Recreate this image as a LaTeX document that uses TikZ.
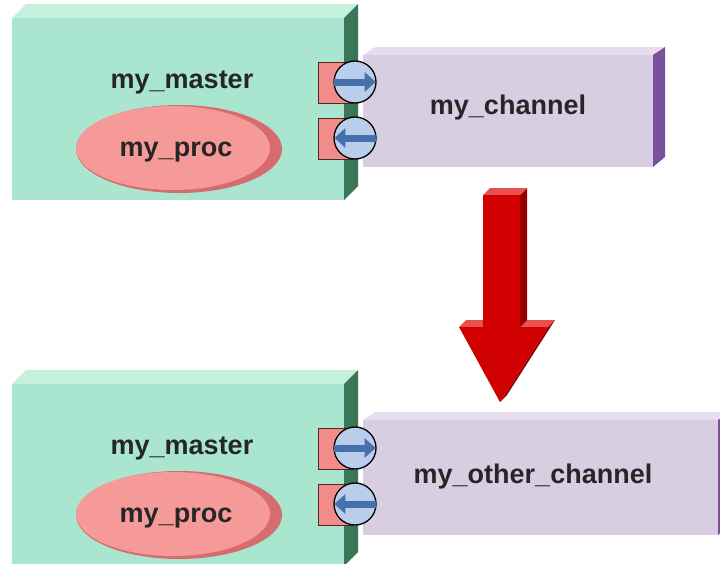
\documentclass[tikz,border=0pt]{standalone}
\usepackage{fontspec}
\setmainfont{Liberation Sans}
\usetikzlibrary{arrows.meta}

\definecolor{mintfront}{RGB}{170,230,207}
\definecolor{minttop}{RGB}{196,240,222}
\definecolor{mintside}{RGB}{58,118,88}
\definecolor{lilacfront}{RGB}{216,206,226}
\definecolor{lilactop}{RGB}{230,222,236}
\definecolor{lilacside}{RGB}{122,80,154}
\definecolor{procdark}{RGB}{214,108,112}
\definecolor{proclight}{RGB}{245,154,152}
\definecolor{portpink}{RGB}{242,140,138}
\definecolor{portedge}{RGB}{80,40,40}
\definecolor{portblue}{RGB}{186,206,236}
\definecolor{portarrow}{RGB}{70,112,172}
\definecolor{redfront}{RGB}{208,0,0}
\definecolor{redtop}{RGB}{232,80,80}
\definecolor{redside}{RGB}{150,0,0}

\tikzset{
  label/.style={font=\fontsize{27}{30}\selectfont\bfseries, text=black!85, inner sep=0pt},
  portsquare/.style={fill=portpink, draw=portedge, line width=1pt},
  portcircle/.style={circle, minimum size=42pt, inner sep=0pt, fill=portblue, draw=black, line width=1.3pt},
  portflow/.style={portarrow, line width=7pt, -{Triangle[length=11pt,width=19pt]}},
  pics/master/.style={code={
    % box with top and side faces
    \fill[minttop] (12,18) -- (26,4) -- (358,4) -- (344,18) -- cycle;
    \fill[mintside] (344,18) -- (358,4) -- (358,186) -- (344,200) -- cycle;
    \fill[mintfront] (12,18) rectangle (344,200);
    \node[label] (-name) at (182,82) {my\_master};
    % process ellipse with shaded rim
    \fill[procdark] (179,149) ellipse [x radius=103, y radius=44];
    \fill[proclight] (173,148) ellipse [x radius=97, y radius=42];
    \node[label] (-proc) at (176,152) {my\_proc};
  }},
  pics/ports/.style={code={
    \node[portsquare, minimum width=34pt, minimum height=41pt, inner sep=0pt, anchor=north west] (-sqa) at (318,62) {};
    \node[portsquare, minimum width=34pt, minimum height=41pt, inner sep=0pt, anchor=north west] (-sqb) at (318,118) {};
    \node[portcircle] (-outp) at (355,82) {};
    \node[portcircle] (-inp) at (355,138) {};
    \draw[portflow] ([xshift=1pt]-outp.west) -- ([xshift=-1pt]-outp.east);
    \draw[portflow] ([xshift=-1pt]-inp.east) -- ([xshift=1pt]-inp.west);
  }}
}

\begin{document}
\begin{tikzpicture}[x=1pt,y=-1pt]
\useasboundingbox (0,0) rectangle (720,563);
\fill[white] (0,0) rectangle (720,563);

% ---- before: master bound to my_channel ----
\pic (topm) at (0,0) {master};
\fill[lilactop] (363,55) -- (375,47) -- (665,47) -- (653,55) -- cycle;
\fill[lilacside] (653,55) -- (665,47) -- (665,157) -- (653,167) -- cycle;
\fill[lilacfront] (363,55) rectangle (653,167);
\node[label] (chan) at (508,108) {my\_channel};
\pic (topp) at (0,0) {ports};

% ---- rebinding arrow ----
\fill[redtop] (459,327) -- (466,320) -- (555,320) -- (548,327) -- cycle;
\fill[redside] (548,327) -- (555,320) -- (507,395) -- (500,402) -- cycle;
\fill[redside] (520,195) -- (527,188) -- (527,320) -- (520,327) -- cycle;
\fill[redtop] (483,195) -- (490,188) -- (527,188) -- (520,195) -- cycle;
\fill[redfront] (483,195) -- (520,195) -- (520,327) -- (548,327) -- (500,402)
  -- (459,327) -- (483,327) -- cycle;

% ---- after: master bound to my_other_channel ----
\pic (botm) at (0,366) {master};
\fill[lilactop] (363,420) -- (375,412) -- (732,412) -- (720,420) -- cycle;
\fill[lilacside] (718,420) -- (730,412) -- (730,525) -- (718,535) -- cycle;
\fill[lilacfront] (363,420) rectangle (718,535);
\node[label] (other) at (533,477) {my\_other\_channel};
\pic (botp) at (0,366) {ports};
\end{tikzpicture}
\end{document}
